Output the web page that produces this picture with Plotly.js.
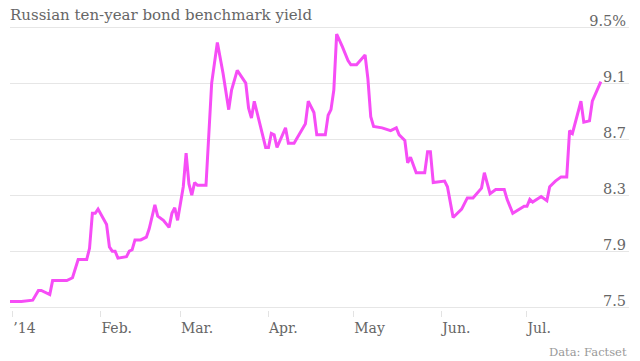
<!DOCTYPE html>
<html>
<head>
<meta charset="utf-8">
<script src="https://cdn.plot.ly/plotly-3.0.1.min.js"></script>
<style>
  html, body { margin: 0; padding: 0; background: #fff; }
  #chart { width: 640px; height: 361px; }
</style>
</head>
<body>
<div id="chart"></div>
<script>
const dates = [
  '2013-12-31','2014-01-04','2014-01-08','2014-01-10','2014-01-11','2014-01-14','2014-01-15','2014-01-20','2014-01-22','2014-01-24',
  '2014-01-27','2014-01-28','2014-01-29','2014-01-30','2014-01-31','2014-02-02','2014-02-03','2014-02-04','2014-02-05','2014-02-06',
  '2014-02-07','2014-02-10','2014-02-11','2014-02-12','2014-02-13','2014-02-15','2014-02-17','2014-02-18','2014-02-20','2014-02-21',
  '2014-02-23','2014-02-25','2014-02-26','2014-02-27','2014-02-28','2014-03-02','2014-03-03','2014-03-04','2014-03-05','2014-03-06',
  '2014-03-07','2014-03-10','2014-03-11','2014-03-12','2014-03-14','2014-03-16','2014-03-18','2014-03-19','2014-03-21','2014-03-24',
  '2014-03-25','2014-03-26','2014-03-27','2014-03-28','2014-03-31','2014-04-01','2014-04-02','2014-04-03','2014-04-04','2014-04-07',
  '2014-04-08','2014-04-10','2014-04-14','2014-04-15','2014-04-17','2014-04-18','2014-04-21','2014-04-22','2014-04-23','2014-04-24',
  '2014-04-25','2014-04-27','2014-04-29','2014-04-30','2014-05-02','2014-05-05','2014-05-06','2014-05-07','2014-05-08','2014-05-11',
  '2014-05-14','2014-05-16','2014-05-17','2014-05-19','2014-05-20','2014-05-21','2014-05-23','2014-05-26','2014-05-27','2014-05-28',
  '2014-05-29','2014-06-02','2014-06-03','2014-06-05','2014-06-08','2014-06-10','2014-06-12','2014-06-15','2014-06-16','2014-06-18',
  '2014-06-20','2014-06-23','2014-06-24','2014-06-26','2014-06-30','2014-07-01','2014-07-02','2014-07-03','2014-07-06','2014-07-08',
  '2014-07-09','2014-07-11','2014-07-13','2014-07-15','2014-07-16','2014-07-17','2014-07-20','2014-07-21','2014-07-23','2014-07-24',
  '2014-07-27'
];
const yields = [
  7.54,7.54,7.55,7.62,7.62,7.59,7.69,7.69,7.71,7.84,
  7.84,7.92,8.17,8.17,8.20,8.13,8.09,7.93,7.90,7.90,
  7.85,7.86,7.90,7.91,7.98,7.98,8.00,8.06,8.23,8.15,
  8.12,8.07,8.17,8.21,8.12,8.36,8.60,8.38,8.30,8.39,
  8.37,8.37,8.76,9.10,9.39,9.17,8.91,9.05,9.19,9.10,
  8.92,8.85,8.97,8.89,8.64,8.64,8.74,8.73,8.64,8.78,
  8.67,8.67,8.81,8.97,8.89,8.73,8.73,8.87,8.91,9.05,
  9.45,9.36,9.26,9.23,9.23,9.30,9.13,8.86,8.79,8.78,
  8.76,8.78,8.73,8.69,8.53,8.57,8.46,8.46,8.61,8.61,
  8.39,8.40,8.36,8.14,8.20,8.28,8.28,8.35,8.46,8.31,
  8.34,8.34,8.27,8.17,8.22,8.22,8.27,8.25,8.29,8.26,
  8.36,8.40,8.43,8.43,8.76,8.74,8.97,8.82,8.83,8.97,
  9.11
];
const xTickVals = ['2014-01-01','2014-02-01','2014-03-01','2014-04-01','2014-05-01','2014-06-01','2014-07-01'];
const xTickText = ['\u201914','Feb.','Mar.','Apr.','May','Jun.','Jul.'];
const yTickVals = [7.5, 7.9, 8.3, 8.7, 9.1, 9.5];
const yTickText = ['7.5','7.9','8.3','8.7','9.1','9.5%'];
const titleText = 'Russian ten-year bond benchmark yield';
const sourceText = 'Data: Factset';

const FONT = 'DejaVu Serif, Liberation Serif, serif';

const trace = {
  x: dates,
  y: yields,
  type: 'scatter',
  mode: 'lines',
  line: { color: '#f64df6', width: 3, shape: 'linear' },
  hoverinfo: 'skip',
  cliponaxis: true
};

const layout = {
  width: 640,
  height: 361,
  margin: { l: 10, r: 11, t: 5, b: 51, pad: 0 },
  paper_bgcolor: '#ffffff',
  plot_bgcolor: 'rgba(0,0,0,0)',
  showlegend: false,
  font: { family: FONT, color: '#666666', size: 14 },
  title: {
    text: titleText,
    font: { family: FONT, size: 15, color: '#666666' },
    x: 10 / 640, xref: 'container', xanchor: 'left',
    y: 1 - 15 / 361, yref: 'container', yanchor: 'middle'
  },
  xaxis: {
    type: 'date',
    range: ['2013-12-31', '2014-08-05 22:00'],
    tickmode: 'array',
    tickvals: xTickVals,
    ticktext: xTickText,
    ticks: 'outside',
    ticklen: 6,
    tickwidth: 1,
    tickcolor: '#e3e3e3',
    ticklabelposition: 'outside right',
    ticklabelstandoff: 5,
    showgrid: false,
    zeroline: false,
    showline: false,
    tickfont: { family: FONT, size: 14, color: '#666666' },
    fixedrange: true
  },
  yaxis: {
    range: [7.48, 9.657],
    side: 'right',
    tickmode: 'array',
    tickvals: yTickVals,
    ticktext: yTickText,
    ticks: '',
    ticklabelposition: 'inside top',
    ticklabelshift: 4,
    showgrid: true,
    gridcolor: '#e6e6e6',
    gridwidth: 1,
    zeroline: false,
    showline: false,
    tickfont: { family: FONT, size: 14.5, color: '#666666' },
    fixedrange: true
  },
  annotations: [{
    text: sourceText,
    xref: 'paper', yref: 'paper',
    x: 1, xanchor: 'right',
    y: -42 / 305, yanchor: 'middle',
    showarrow: false,
    font: { family: FONT, size: 11.5, color: '#999999' }
  }]
};

Plotly.newPlot('chart', [trace], layout, { displayModeBar: false, staticPlot: true });
</script>
</body>
</html>
